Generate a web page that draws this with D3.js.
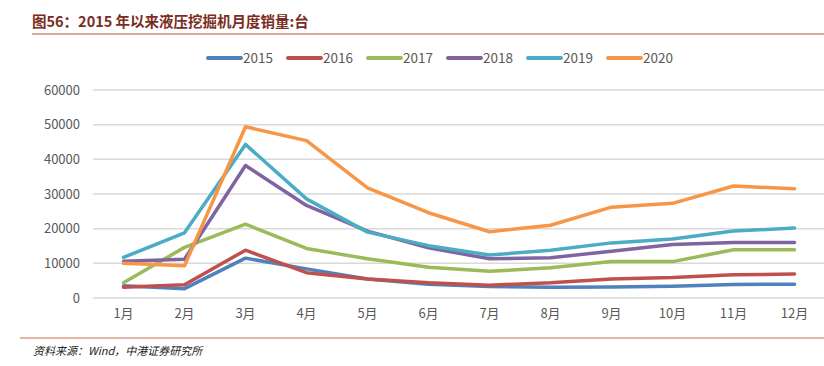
<!DOCTYPE html>
<html>
<head>
<meta charset="utf-8">
<script src="https://cdn.jsdelivr.net/npm/d3@7"></script>
<style>
  body { margin: 0; background: #fff; }
  svg { display: block; }
</style>
</head>
<body>
<svg id="chart" width="824" height="366"></svg>
<script>
// data
const months = ['1月', '2月', '3月', '4月', '5月', '6月', '7月', '8月', '9月', '10月', '11月', '12月']
const years = ['2015', '2016', '2017', '2018', '2019', '2020']
const yTicks = [0, 10000, 20000, 30000, 40000, 50000, 60000]

const s2015 = [3500, 2700, 11500, 8400, 5500, 4000, 3300, 3100, 3200, 3400, 3900, 4000]
const s2016 = [3100, 3800, 13800, 7300, 5500, 4400, 3700, 4400, 5500, 5900, 6700, 6900]
const s2017 = [4400, 14600, 21300, 14300, 11300, 8900, 7700, 8700, 10500, 10500, 13900, 13900]
const s2018 = [10600, 11200, 38200, 26700, 19300, 14500, 11300, 11600, 13500, 15400, 16000, 16000]
const s2019 = [11700, 18800, 44300, 28600, 19000, 15100, 12400, 13800, 15900, 17000, 19300, 20200]
const s2020 = [10000, 9300, 49400, 45400, 31800, 24600, 19100, 21000, 26200, 27300, 32300, 31500]

const seriesValues = [s2015, s2016, s2017, s2018, s2019, s2020]
const colors = ['#4f81bd', '#c0504d', '#9bbb59', '#8064a2', '#4bacc6', '#f79646']

const font = '"Noto Sans CJK SC", "Noto Sans", sans-serif'
const label_color = '#595959'
const grid_color = '#d9d9d9'

const svg = d3.select('#chart')

// title
svg.append('text')
    .attr('x', 32)
    .attr('y', 27)
    .text('图56：2015 年以来液压挖掘机月度销量:台')
    .attr('fill', '#7a2c22')
    .style('font-family', font)
    .style('font-weight', 'bold')
    .style('font-size', '14.5px')

svg.append('line')
    .attr('x1', 32).attr('x2', 824)
    .attr('y1', 34).attr('y2', 34)
    .attr('stroke', '#dda999')
    .attr('stroke-width', 2)

// scales
const x = d3.scaleBand().domain(months).range([93, 825])
const y = d3.scaleLinear().domain([0, 60000]).range([298, 90])

// grid
svg.append('g')
    .selectAll('line')
    .data(yTicks)
    .enter()
    .append('line')
    .attr('x1', 93).attr('x2', 824)
    .attr('y1', d => y(d)).attr('y2', d => y(d))
    .attr('stroke', grid_color)
    .attr('stroke-width', 1.5)

// y axis labels
const yAxis = svg.append('g')
    .attr('transform', 'translate(80,0)')
    .call(d3.axisLeft(y).tickValues(yTicks).tickSize(0).tickPadding(0).tickFormat(d3.format('d')))
yAxis.select('.domain').remove()
yAxis.selectAll('text')
    .attr('fill', label_color)
    .style('font-family', font)
    .style('font-size', '13px')

// x axis labels
const xAxis = svg.append('g')
    .attr('transform', 'translate(0,309)')
    .call(d3.axisBottom(x).tickSize(0).tickPadding(0))
xAxis.select('.domain').remove()
xAxis.selectAll('text')
    .attr('fill', label_color)
    .style('font-family', font)
    .style('font-size', '13px')

// lines
const line = d3.line()
    .x((d, i) => x(months[i]) + x.bandwidth() / 2)
    .y(d => y(d))

svg.append('g')
    .selectAll('path')
    .data(seriesValues)
    .enter()
    .append('path')
    .attr('d', d => line(d))
    .attr('fill', 'none')
    .attr('stroke', (d, i) => colors[i])
    .attr('stroke-width', 3.5)
    .attr('stroke-linejoin', 'round')
    .attr('stroke-linecap', 'round')

// legend
const legend = svg.append('g')
    .selectAll('g')
    .data(years)
    .enter()
    .append('g')
    .attr('transform', (d, i) => `translate(${208 + i * 80},58)`)

legend.append('line')
    .attr('x1', 0).attr('x2', 33)
    .attr('y1', 0).attr('y2', 0)
    .attr('stroke', (d, i) => colors[i])
    .attr('stroke-width', 4)
    .attr('stroke-linecap', 'round')

legend.append('text')
    .attr('x', 35)
    .attr('y', 5)
    .text(d => d)
    .attr('fill', label_color)
    .style('font-family', font)
    .style('font-size', '13.5px')

// footer
svg.append('line')
    .attr('x1', 20).attr('x2', 824)
    .attr('y1', 338).attr('y2', 338)
    .attr('stroke', '#d0664e')
    .attr('stroke-width', 1)

svg.append('text')
    .attr('x', 33)
    .attr('y', 355)
    .text('资料来源：Wind，中港证券研究所')
    .attr('fill', '#222')
    .style('font-family', font)
    .style('font-style', 'italic')
    .style('font-size', '11px')
</script>
</body>
</html>
